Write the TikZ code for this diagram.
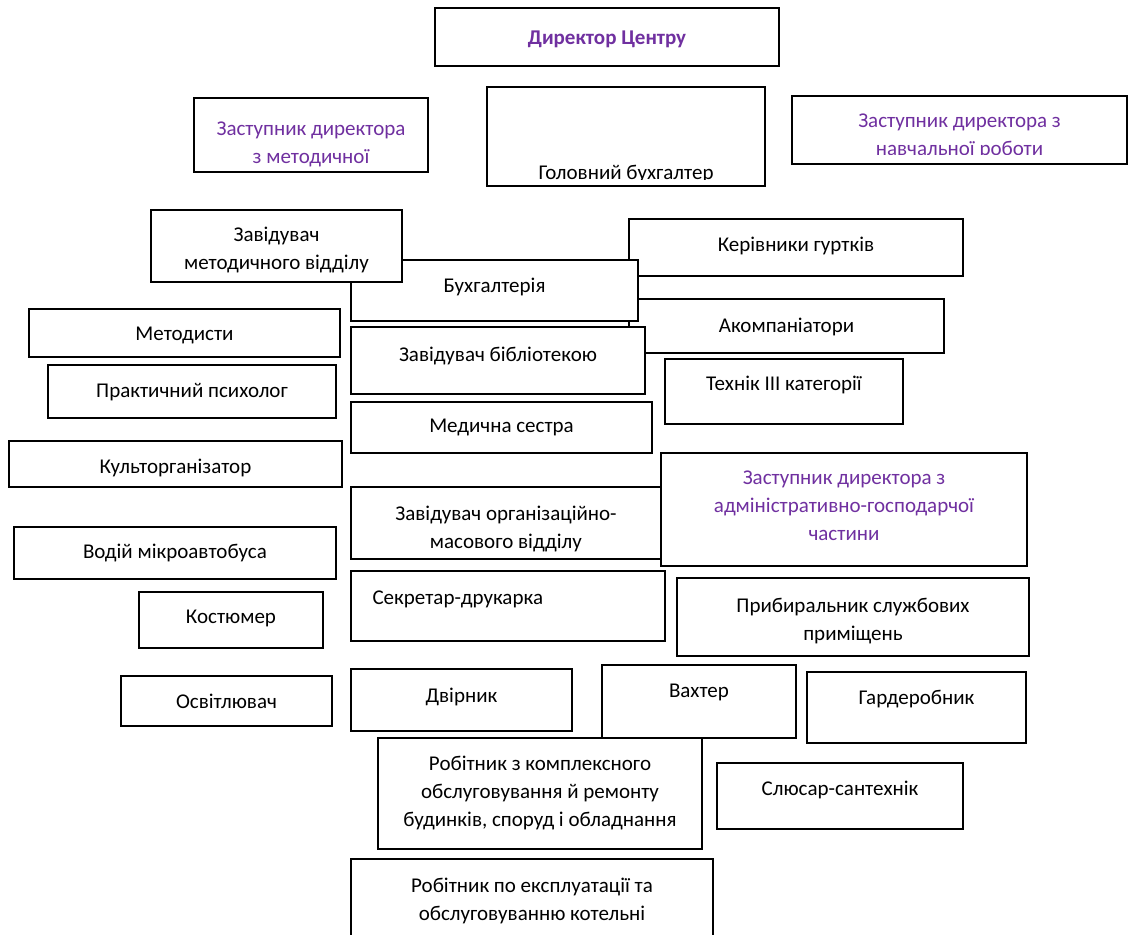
\documentclass[tikz,border=0pt]{standalone}
\usepackage{fontspec}
\setmainfont{Carlito}
\usepackage{tikz}
\usetikzlibrary{positioning,fit}
\definecolor{zampurple}{HTML}{7030A0}

\begin{document}
\begin{tikzpicture}[x=0.5pt, y=-0.5pt,
    box/.style={draw, line width=0.9pt, fill=white, inner sep=0pt},
    txt/.style={align=center, inner sep=0pt, font=\fontsize{10.5}{14}\selectfont},
    zam/.style={txt, text=zampurple}
  ]
  \clip (0,0) rectangle (1130,935);

  % top row
  \node[box, fit={(435,8) (779,66)}] (dir) {};
  \node[zam, font=\fontsize{10.5}{14}\selectfont\bfseries, below=11.5pt of dir.north] (dirT) {Директор Центру};
  \node[box, fit={(194,98) (428,172)}] (zamMet) {};
  \node[zam, below=12pt of zamMet.north] (zamMetT) {Заступник директора\\з методичної};
  \node[box, fit={(487,87) (765,186)}] (golBuh) {};
  \begin{scope}
    \clip (golBuh.north west) rectangle ([yshift=3.5pt]golBuh.south east);
    \node[txt, below=39.5pt of golBuh.north] (golBuhT) {Головний бухгалтер};
  \end{scope}
  \node[box, fit={(792,96) (1127,164)}] (zamNav) {};
  \begin{scope}
    \clip (zamNav.north west) rectangle ([yshift=5pt]zamNav.south east);
    \node[zam, below=9pt of zamNav.north] (zamNavT) {Заступник директора з\\навчальної роботи};
  \end{scope}

  % middle block
  \node[box, fit={(629,219) (963,276)}] (kerivn) {};
  \node[txt, below=9.5pt of kerivn.north] (kerivnT) {Керівники гуртків};
  \node[box, fit={(629,299) (944,353)}] (akomp) {};
  \node[txt, below=10pt of akomp.north] (akompT) {Акомпаніатори};
  \node[box, fit={(351,260) (638,321)}] (buh) {};
  \node[txt, below=9.5pt of buh.north] (buhT) {Бухгалтерія};
  \node[box, fit={(151,210) (402,282)}] (zavMet) {};
  \node[txt, below=9pt of zavMet.north] (zavMetT) {Завідувач\\методичного відділу};
  \node[box, fit={(351,327) (645,394)}] (bibl) {};
  \node[txt, below=10.5pt of bibl.north] (biblT) {Завідувач бібліотекою};
  \node[box, fit={(665,359) (903,424)}] (tehnik) {};
  \node[txt, below=9pt of tehnik.north] (tehnikT) {Технік III категорії};
  \node[box, fit={(351,402) (652,453)}] (medS) {};
  \node[txt, below=9pt of medS.north] (medST) {Медична сестра};
  \node[box, fit={(661,453) (1027,566)}] (zamAdm) {};
  \node[zam, below=9pt of zamAdm.north] (zamAdmT) {Заступник директора з\\адміністративно-господарчої\\частини};
  \node[box, fit={(351,487) (661,559)}] (zavOrg) {};
  \node[txt, below=10pt of zavOrg.north] (zavOrgT) {Завідувач організаційно-\\масового відділу};
  \node[box, fit={(351,571) (665,641)}] (sekr) {};
  \node[txt, below right=10pt and 11pt of sekr.north west] (sekrT) {Секретар-друкарка};
  \node[box, fit={(677,578) (1029,656)}] (prybyr) {};
  \node[txt, below=10.5pt of prybyr.north] (prybyrT) {Прибиральник службових\\приміщень};

  % left column
  \node[box, fit={(29,309) (340,357)}] (metod) {};
  \node[txt, below=9.5pt of metod.north] (metodT) {Методисти};
  \node[box, fit={(48,365) (336,418)}] (psyh) {};
  \node[txt, below=9.5pt of psyh.north] (psyhT) {Практичний психолог};
  \node[box, fit={(9,441) (342,487)}] (kultorg) {};
  \node[txt, below=9.5pt of kultorg.north] (kultorgT) {Культорганізатор};
  \node[box, fit={(14,527) (336,579)}] (vodiy) {};
  \node[txt, below=9pt of vodiy.north] (vodiyT) {Водій мікроавтобуса};
  \node[box, fit={(139,592) (323,648)}] (kostum) {};
  \node[txt, below=9.5pt of kostum.north] (kostumT) {Костюмер};
  \node[box, fit={(121,676) (332,726)}] (osvitl) {};
  \node[txt, below=9.5pt of osvitl.north] (osvitlT) {Освітлювач};

  % bottom block
  \node[box, fit={(351,669) (572,731)}] (dvirn) {};
  \node[txt, below=10pt of dvirn.north] (dvirnT) {Двірник};
  \node[box, fit={(602,665) (796,738)}] (vahter) {};
  \node[txt, below=10pt of vahter.north] (vahterT) {Вахтер};
  \node[box, fit={(807,672) (1026,743)}] (garder) {};
  \node[txt, below=9.5pt of garder.north] (garderT) {Гардеробник};
  \node[box, fit={(378,738) (702,849)}] (robKompl) {};
  \node[txt, below=9.5pt of robKompl.north] (robKomplT) {Робітник з комплексного\\обслуговування й ремонту\\будинків, споруд і обладнання};
  \node[box, fit={(717,763) (963,829)}] (slyusar) {};
  \node[txt, below=9.5pt of slyusar.north] (slyusarT) {Слюсар-сантехнік};
  \node[box, fit={(351,859) (713,950)}] (robKotel) {};
  \node[txt, below=10pt of robKotel.north] (robKotelT) {Робітник по експлуатації та\\обслуговуванню котельні};
\end{tikzpicture}
\end{document}
